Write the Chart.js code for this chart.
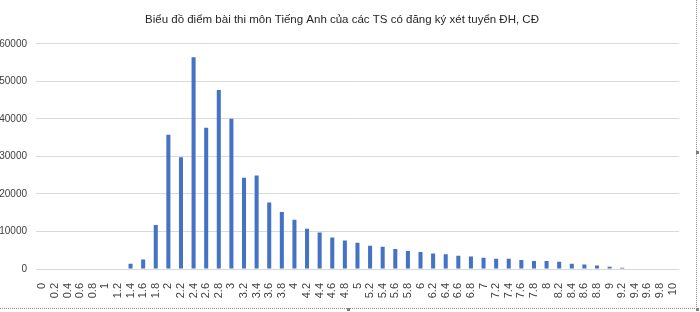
<html>

<head>
    <style>
        body {
            margin: 0;
            background-color: white;
        }

        #wrap {
            position: relative;
            width: 700px;
            height: 312px;
        }

        #frame {
            position: absolute;
            left: 0;
            top: 0;
            width: 696px;
            height: 308px;
            border-right: 1px dotted #8c8c8c;
            border-bottom: 1px dotted #8c8c8c;
            pointer-events: none;
        }

        .handle {
            position: absolute;
            width: 3px;
            height: 3px;
            background-color: #7f7f7f;
        }
    </style>
    <script src="https://cdn.jsdelivr.net/npm/chart.js@4.4.1/dist/chart.umd.min.js"></script>
</head>

<body>
    <div id="wrap">
        <canvas id="myChart" width="700" height="312"></canvas>
        <div id="frame"></div>
        <div class="handle" style="left:696px; top:151px;"></div>
        <div class="handle" style="left:347px; top:308px;"></div>
        <div class="handle" style="left:696px; top:308px;"></div>
    </div>
</body>

<script>
    // scores on the x axis
    var scoreLabels = ['0', '0.2', '0.4', '0.6', '0.8', '1', '1.2', '1.4', '1.6', '1.8',
        '2', '2.2', '2.4', '2.6', '2.8', '3', '3.2', '3.4', '3.6', '3.8',
        '4', '4.2', '4.4', '4.6', '4.8', '5', '5.2', '5.4', '5.6', '5.8',
        '6', '6.2', '6.4', '6.6', '6.8', '7', '7.2', '7.4', '7.6', '7.8',
        '8', '8.2', '8.4', '8.6', '8.8', '9', '9.2', '9.4', '9.6', '9.8', '10'];

    // number of candidates per score
    var candidateCounts = [0, 0, 0, 0, 0, 0, 0, 1400, 2500, 11700,
        35800, 29800, 56400, 37600, 47700, 40000, 24300, 24900, 17700, 15200,
        13100, 10700, 9700, 8400, 7600, 7000, 6200, 5900, 5300, 4800,
        4500, 4100, 3900, 3500, 3300, 3000, 2700, 2700, 2400, 2100,
        2100, 1900, 1400, 1200, 950, 600, 350, 150, 0, 0, 0];

    var chartTitle = 'Biểu đồ điểm bài thi môn Tiếng Anh của các TS có đăng ký xét tuyển ĐH, CĐ';

    var paintingCanvas = document.getElementById('myChart').getContext('2d');
    var chart = new Chart(paintingCanvas, {
        type: 'bar',
        data: {
            labels: scoreLabels,
            datasets: [
                {
                    label: 'Số thí sinh',
                    backgroundColor: 'rgb(68, 114, 196)',
                    borderWidth: 0,
                    categoryPercentage: 1,
                    barPercentage: 0.32,
                    data: candidateCounts
                }
            ]
        },
        options: {
            responsive: false,
            animation: false,
            layout: {
                padding: { left: 0, right: 16, top: 0, bottom: 3 }
            },
            plugins: {
                legend: { display: false },
                tooltip: { enabled: false },
                title: {
                    display: true,
                    text: chartTitle,
                    color: '#262626',
                    font: { family: "'Liberation Sans', Arial, sans-serif", size: 11.5, weight: 'normal' },
                    padding: { top: 13, bottom: 17 }
                }
            },
            scales: {
                x: {
                    grid: { display: false, drawTicks: false },
                    border: { display: true, color: '#d9d9d9' },
                    ticks: {
                        color: '#404040',
                        font: { family: "'Liberation Sans', sans-serif", size: 11 },
                        minRotation: 90,
                        maxRotation: 90,
                        autoSkip: false,
                        padding: 14
                    },
                    afterFit: function (scale) {
                        scale.height = 40;
                    }
                },
                y: {
                    min: 0,
                    max: 60000,
                    grid: { color: '#d9d9d9', drawTicks: false },
                    border: { display: false },
                    ticks: {
                        stepSize: 10000,
                        color: '#404040',
                        font: { family: "'Liberation Sans', sans-serif", size: 10 },
                        padding: 9,
                        callback: function (value) {
                            return String(value);
                        }
                    },
                    afterFit: function (scale) {
                        scale.width = 36;
                    }
                }
            }
        }
    });
</script>

</html>
